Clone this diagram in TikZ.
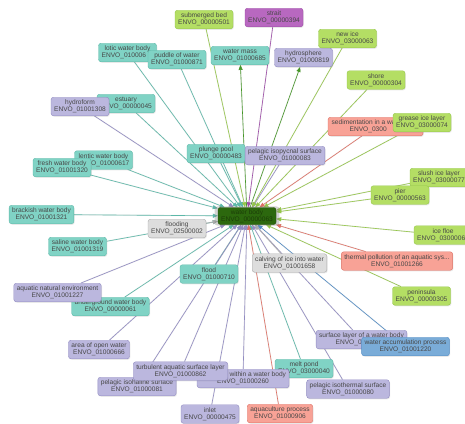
\documentclass[tikz,border=0pt]{standalone}
\usepackage{fontspec}
\setmainfont{Liberation Sans}
\usetikzlibrary{arrows.meta,backgrounds,shadows}

% colores de los terminos
\definecolor{tealF}{RGB}{128,211,197}\definecolor{tealD}{RGB}{92,184,168}
\definecolor{lavF}{RGB}{187,183,222}\definecolor{lavD}{RGB}{146,140,194}
\definecolor{limeF}{RGB}{180,222,100}\definecolor{limeD}{RGB}{148,198,72}
\definecolor{salF}{RGB}{248,162,150}\definecolor{salD}{RGB}{222,112,100}
\definecolor{greyF}{RGB}{221,221,221}\definecolor{greyD}{RGB}{172,172,172}
\definecolor{purF}{RGB}{184,104,192}\definecolor{purD}{RGB}{156,74,166}
\definecolor{bluF}{RGB}{122,172,216}\definecolor{bluD}{RGB}{82,140,196}
\definecolor{hubF}{RGB}{44,104,14}\definecolor{hubD}{RGB}{70,150,40}

\begin{document}
\begin{tikzpicture}[x=1pt,y=-1pt,
  term/.style={draw, rounded corners=2.5pt, align=center, text=black!72,
    font=\fontsize{6.6}{7.2}\selectfont, inner xsep=3pt, inner ysep=1.8pt,
    minimum width=58pt, minimum height=18.5pt,
    drop shadow={opacity=0.18, shadow xshift=0.8pt, shadow yshift=-1pt}},
  nteal/.style={term, fill=tealF, draw=tealD},
  nlav/.style={term, fill=lavF, draw=lavD},
  nlime/.style={term, fill=limeF, draw=limeD},
  nsal/.style={term, fill=salF, draw=salD},
  ngrey/.style={term, fill=greyF, draw=greyD},
  npur/.style={term, fill=purF, draw=purD},
  nblu/.style={term, fill=bluF, draw=bluD},
  hub/.style={term, fill=hubF, draw=hubF!80!black, text=hubF!60!black,
    minimum height=17pt,
    drop shadow={opacity=0.35, shadow xshift=0pt, shadow yshift=0pt, shadow scale=1.12}},
  link/.style={-{Triangle[length=5pt,width=4pt]}, line width=0.6pt,
    preaction={draw=black!30, line width=1.3pt, opacity=0.25}},
]
\useasboundingbox (0,0) rectangle (465,423);

% termino central
\node[hub] (wb) at (247,216) {water body\\ENVO\_00000063};

% arriba
\node[nlime] (subbed) at (204,19.5) {submerged bed\\ENVO\_00000501};
\node[npur] (strait) at (274,17.5) {strait\\ENVO\_00000394};
\node[nteal] (lotic) at (127.5,52.5) {lotic water body\\\rlap{ENVO\_010006}\phantom{ENVO\_00000000}};
\node[nteal] (puddle) at (177,59.5) {puddle of water\\ENVO\_01000871};
\node[nteal] (wmass) at (240,55.5) {water mass\\ENVO\_01000685};
\node[nlav] (hsph) at (303.5,57.5) {hydrosphere\\ENVO\_01000819};
\node[nlime] (newice) at (347.5,38.5) {new ice\\ENVO\_03000063};
\node[nlime] (shore) at (376,80) {shore\\ENVO\_00000304};
\node[nteal] (estuary) at (126,103.5) {estuary\\ENVO\_00000045};
\node[nlav] (hform) at (80,106.5) {hydroform\\ENVO\_01001308};
\node[nsal, minimum width=95pt] (sedim) at (375.5,126.5) {sedimentation in a water body\\\rlap{ENVO\_0300}\phantom{ENVO\_00000000}};
\node[nlime] (grease) at (422,122.5) {grease ice layer\\ENVO\_03000074};

% centro
\node[nteal] (plunge) at (216,153.5) {plunge pool\\ENVO\_00000483};
\node[nlav] (isopyc) at (285,155.5) {pelagic isopycnal surface\\ENVO\_01000083};
\node[nteal] (lentic) at (103.5,160) {lentic water body\\ENVO\_01000617};
\node[nteal] (fresh) at (62,167.5) {fresh water body\\ENVO\_01001320};
\node[nlime] (slush) at (439,177.5) {slush ice layer\\ENVO\_03000077};
\node[nlime] (pier) at (400,195) {pier\\ENVO\_00000563};
\node[nteal] (brack) at (41.5,214.5) {brackish water body\\ENVO\_01001321};
\node[ngrey] (flooding) at (177,228.5) {flooding\\ENVO\_02500002};
\node[nlime] (icefloe) at (443,235) {ice floe\\\rlap{ENVO\_0300006}\phantom{ENVO\_00000000}};
\node[nteal] (saline) at (77.5,246.5) {saline water body\\ENVO\_01001319};
\node[nsal] (thermal) at (397,261) {thermal pollution of an aquatic sys...\\ENVO\_01001266};
\node[ngrey] (calving) at (289.5,263) {calving of ice into water\\ENVO\_01001658};
\node[nteal] (flood) at (209,274) {flood\\ENVO\_01000710};

% abajo
\node[nteal] (underg) at (110.5,306.5) {underground water body\\ENVO\_00000061};
\node[nlav] (aqnat) at (57.5,292.5) {aquatic natural environment\\ENVO\_01001227};
\node[nlime] (penin) at (421.5,296) {peninsula\\ENVO\_00000305};
\node[nlav] (openw) at (99,349.5) {area of open water\\ENVO\_01000666};
\node[nlav] (surfl) at (361.5,339.5) {surface layer of a water body\\\rlap{ENVO\_0}\phantom{ENVO\_00000000}};
\node[nblu] (wacc) at (405.5,346.5) {water accumulation process\\ENVO\_01001220};
\node[nteal] (melt) at (304,368.5) {melt pond\\ENVO\_03000040};
\node[nlav] (within) at (243,378.5) {\makebox[86pt][r]{within a water body}\\ENVO\_01000260};
\node[nlav] (isohal) at (137,386.5) {pelagic isohaline surface\\ENVO\_01000081};
\node[nlav] (turb) at (180.5,371) {turbulent aquatic surface layer\\ENVO\_01000862};
\node[nlav] (isoth) at (348,389) {pelagic isothermal surface\\ENVO\_01000080};
\node[nlav] (inlet) at (210,414) {inlet\\ENVO\_00000475};
\node[nsal] (aquac) at (280,413.5) {aquaculture process\\ENVO\_01000906};

% enlaces
\begin{pgfonlayer}{background}
\foreach \n in {lotic,puddle,estuary,plunge,lentic,fresh,brack,saline,flood,underg,melt}
  \draw[link, tealD] (\n) -- (wb);
\foreach \n in {hform,isopyc,aqnat,openw,surfl,within,isohal,turb,isoth,inlet}
  \draw[link, lavD] (\n) -- (wb);
\foreach \n in {subbed,newice,shore,grease,slush,pier,icefloe,penin}
  \draw[link, limeD] (\n) -- (wb);
\foreach \n in {sedim,thermal,aquac}
  \draw[link, salD] (\n) -- (wb);
\foreach \n in {flooding,calving}
  \draw[link, greyD] (\n) -- (wb);
\draw[link, purD] (strait) -- (wb);
\draw[link, bluD] (wacc) -- (wb);
\draw[link, hubD] (wb) -- (wmass);
\draw[link, hubD] (wb) -- (hsph);
\end{pgfonlayer}
\end{tikzpicture}
\end{document}
